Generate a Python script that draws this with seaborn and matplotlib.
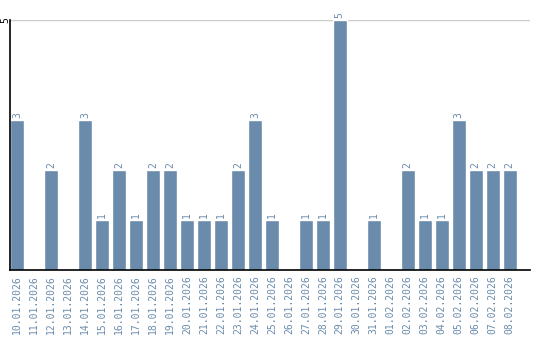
import matplotlib
matplotlib.use("Agg")
import matplotlib.pyplot as plt
import seaborn as sns
import pandas as pd

dates = ["10.01.2026", "11.01.2026", "12.01.2026", "13.01.2026", "14.01.2026",
         "15.01.2026", "16.01.2026", "17.01.2026", "18.01.2026", "19.01.2026",
         "20.01.2026", "21.01.2026", "22.01.2026", "23.01.2026", "24.01.2026",
         "25.01.2026", "26.01.2026", "27.01.2026", "28.01.2026", "29.01.2026",
         "30.01.2026", "31.01.2026", "01.02.2026", "02.02.2026", "03.02.2026",
         "04.02.2026", "05.02.2026", "06.02.2026", "07.02.2026", "08.02.2026"]
counts = [3, 0, 2, 0, 3, 1, 2, 1, 2, 2,
          1, 1, 1, 2, 3, 1, 0, 1, 1, 5,
          0, 1, 0, 2, 1, 1, 3, 2, 2, 2]

df = pd.DataFrame({"date": dates, "count": counts})

sns.set_style("white")
plt.rcParams['font.family'] = ['DejaVu Sans Mono', 'DejaVu Sans']

bar_color = "#6a8bab"
text_color = "#6a8bab"

fig = plt.figure(figsize=(5.4, 3.4), dpi=100)
ax = fig.add_axes([10/540, 70/340, 520/540, 250/340])

sns.barplot(data=df, x="date", y="count", color=bar_color, width=0.82,
            saturation=1, ax=ax, zorder=2)

ax.set_ylim(0, 5)
ax.set_xlim(-0.42, 30.2)
ax.set_yticks([5])
ax.set_yticklabels(["5"], rotation=90, va="center", ha="center",
                   fontsize=7, color="black")
ax.tick_params(axis="y", length=0, pad=3.2)
ax.yaxis.grid(True, color="#cccccc", linewidth=1, zorder=0)
ax.set_axisbelow(True)

ax.set_xticks(range(len(dates)))
ax.set_xticklabels(dates, rotation=90, fontsize=7, color=text_color)
ax.tick_params(axis="x", length=0, pad=4)
ax.set_xlabel("")
ax.set_ylabel("")

for s in ["top", "right"]:
    ax.spines[s].set_visible(False)
for s in ["left", "bottom"]:
    ax.spines[s].set_visible(True)
    ax.spines[s].set_color("black")
    ax.spines[s].set_linewidth(1.2)

for i, v in enumerate(counts):
    if v > 0:
        ax.text(i, v + 0.03, str(v), rotation=90, ha="center", va="bottom",
                fontsize=7, color=text_color)

fig.savefig("out.png", dpi=100)
